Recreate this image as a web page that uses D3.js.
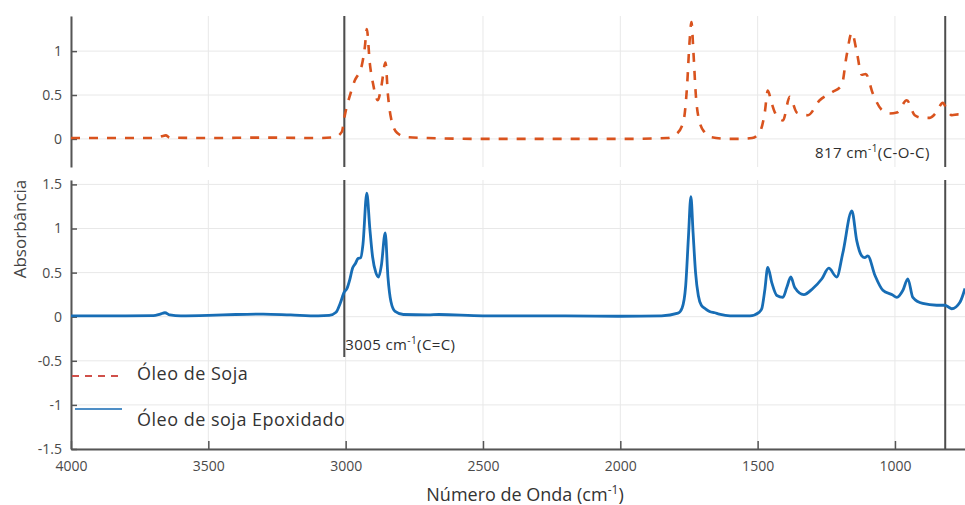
<!DOCTYPE html>
<html><head><meta charset="utf-8">
<script src="https://cdn.jsdelivr.net/npm/d3@7"></script>
<style>
body{margin:0;background:#fff;}
svg{display:block;font-family:"Open Sans",sans-serif;}
</style></head>
<body><svg id="c" width="965" height="505"></svg>
<script>
// ---- data ----
const xTicks = [4000, 3500, 3000, 2500, 2000, 1500, 1000];
const topYTicks = [0, 0.5, 1];
const bottomYTicks = [-1.5, -1, -0.5, 0, 0.5, 1, 1.5];
const markerWn = [3005, 817];
const seriesNames = ["Óleo de Soja", "Óleo de soja Epoxidado"];

const soyWn  = [4000,3800,3700,3670,3655,3640,3500,3300,3100,3040,3014,3003,2984,2966,2950,2941,2930,2923,2912,2901,2883,2870,2855,2846,2835,2813,2777,2700,2500,2000,1830,1794,1770,1757,1748,1741,1734,1725,1712,1692,1670,1600,1565,1520,1492,1474,1463,1450,1437,1408,1383,1357,1317,1274,1230,1194,1176,1157,1139,1121,1106,1081,1048,1020,993,957,928,900,873,850,826,810,793,770,745];
const soyAbs = [0.01,0.01,0.01,0.03,0.04,0.015,0.01,0.015,0.01,0.02,0.08,0.27,0.5,0.67,0.76,0.84,1.05,1.25,0.86,0.64,0.44,0.6,0.87,0.5,0.24,0.07,0.02,0.01,0.0,0.0,0.01,0.06,0.2,0.6,1.1,1.33,1.0,0.5,0.2,0.07,0.02,0.0,0.0,0.01,0.08,0.3,0.55,0.42,0.3,0.21,0.48,0.3,0.27,0.44,0.53,0.61,0.95,1.21,0.99,0.73,0.74,0.52,0.33,0.29,0.3,0.44,0.27,0.24,0.24,0.3,0.41,0.33,0.27,0.28,0.28];

const esoWn  = [4000,3800,3700,3675,3658,3640,3600,3500,3400,3300,3200,3100,3060,3035,3020,3005,2995,2985,2975,2965,2955,2945,2937,2923,2912,2902,2890,2880,2870,2856,2846,2835,2820,2790,2700,2660,2500,2200,2000,1850,1790,1775,1762,1752,1743,1735,1726,1716,1705,1690,1675,1656,1640,1600,1528,1495,1485,1474,1463,1448,1430,1408,1394,1379,1365,1332,1299,1266,1241,1212,1190,1157,1139,1121,1110,1099,1073,1044,1010,993,971,953,935,899,848,819,800,793,764,745];
const esoAbs = [0.01,0.01,0.012,0.03,0.045,0.02,0.01,0.015,0.025,0.03,0.02,0.01,0.015,0.05,0.15,0.28,0.32,0.42,0.55,0.6,0.66,0.67,0.82,1.40,1.0,0.68,0.5,0.45,0.58,0.95,0.45,0.17,0.06,0.025,0.02,0.025,0.01,0.01,0.005,0.01,0.04,0.1,0.35,0.9,1.36,0.95,0.5,0.24,0.13,0.09,0.06,0.045,0.03,0.01,0.01,0.05,0.09,0.3,0.56,0.38,0.24,0.22,0.33,0.45,0.33,0.25,0.32,0.43,0.55,0.45,0.72,1.20,0.86,0.69,0.67,0.69,0.47,0.3,0.25,0.22,0.3,0.43,0.22,0.15,0.13,0.13,0.1,0.09,0.16,0.32];

// ---- layout ----
const svg = d3.select("#c");
const L = 71, R = 965;
const pT = {y0: 16, y1: 167}, pB = {y0: 180, y1: 449};
const x = d3.scaleLinear().domain([4000, 745]).range([L, R]);
const yT = d3.scaleLinear().domain([-0.32, 1.4]).range([pT.y1, pT.y0]);
const yB = d3.scaleLinear().domain([-1.5, 1.55]).range([pB.y1, pB.y0]);

const gridC = "#e8e8e8", axisC = "#555", txtC = "#4a4a4a";

function grid(y, yTicks, p){
  const g = svg.append("g");
  g.selectAll(".v").data(xTicks).join("line")
    .attr("x1", d => x(d)).attr("x2", d => x(d)).attr("y1", p.y0).attr("y2", p.y1)
    .attr("stroke", gridC).attr("stroke-width", 1);
  g.selectAll(".h").data(yTicks).join("line")
    .attr("x1", L).attr("x2", R).attr("y1", d => y(d)).attr("y2", d => y(d))
    .attr("stroke", gridC).attr("stroke-width", 1);
}
grid(yT, topYTicks, pT);
grid(yB, bottomYTicks, pB);

function styleAxis(g){
  g.select(".domain").attr("stroke", axisC).attr("stroke-width", 2);
  g.selectAll(".tick line").attr("stroke", axisC).attr("stroke-width", 1.5);
  g.selectAll(".tick text").attr("fill", txtC).attr("font-size", 14).attr("font-family", "Open Sans, sans-serif");
}
const fmt = d => String(d);
svg.append("g").attr("transform", `translate(${L},0)`)
  .call(d3.axisLeft(yT).tickValues(topYTicks).tickFormat(fmt).tickSizeInner(-6).tickSizeOuter(0).tickPadding(9))
  .call(styleAxis);
svg.append("g").attr("transform", `translate(${L},0)`)
  .call(d3.axisLeft(yB).tickValues(bottomYTicks).tickFormat(fmt).tickSizeInner(-6).tickSizeOuter(0).tickPadding(9))
  .call(styleAxis);
svg.append("g").attr("transform", `translate(0,${pB.y1})`)
  .call(d3.axisBottom(x).tickValues(xTicks).tickFormat(fmt).tickSizeInner(-8).tickSizeOuter(0).tickPadding(12))
  .call(styleAxis);

// marker lines
svg.selectAll(null).data(markerWn).join("line")
  .attr("x1", d => x(d)).attr("x2", d => x(d)).attr("y1", pT.y0).attr("y2", pT.y1)
  .attr("stroke", "#4d4d4d").attr("stroke-width", 2);
svg.selectAll(null).data(markerWn).join("line")
  .attr("x1", d => x(d)).attr("x2", d => x(d)).attr("y1", pB.y0).attr("y2", d => d === 3005 ? 357 : pB.y1)
  .attr("stroke", "#4d4d4d").attr("stroke-width", 2);

// series
const lineT = d3.line().x(d => x(d[0])).y(d => yT(d[1])).curve(d3.curveMonotoneX);
const lineB = d3.line().x(d => x(d[0])).y(d => yB(d[1])).curve(d3.curveMonotoneX);
svg.append("path").datum(d3.zip(soyWn, soyAbs)).attr("d", lineT)
  .attr("fill", "none").attr("stroke", "#d9531e").attr("stroke-width", 2.6)
  .attr("stroke-dasharray", "9,9");
svg.append("path").datum(d3.zip(esoWn, esoAbs)).attr("d", lineB)
  .attr("fill", "none").attr("stroke", "#176db5").attr("stroke-width", 2.8);

// annotations
function annot(xp, yp, num, rest){
  const t = svg.append("text").attr("x", xp).attr("y", yp).attr("fill", "#2e2e2e")
    .attr("font-size", 15).attr("letter-spacing", 0.4).attr("font-family", "Open Sans, sans-serif");
  t.append("tspan").text(num + " cm");
  t.append("tspan").attr("dy", -6).attr("font-size", 10).text("-1");
  t.append("tspan").attr("dy", 6).text(rest);
}
annot(x(3005) + 1, 350, "3005", "(C=C)");
annot(815, 158, "817", "(C-O-C)");

// legend
const leg = svg.append("g");
leg.append("line").attr("x1", 72).attr("x2", 120).attr("y1", 376).attr("y2", 376)
  .attr("stroke", "#d0504a").attr("stroke-width", 2).attr("stroke-dasharray", "7,6");
leg.append("line").attr("x1", 75).attr("x2", 122).attr("y1", 409).attr("y2", 409)
  .attr("stroke", "#4f8fc6").attr("stroke-width", 2);
leg.append("text").attr("x", 137).attr("y", 380).text(seriesNames[0])
  .attr("font-size", 18).attr("fill", "#333").attr("letter-spacing", 0.5);
leg.append("text").attr("x", 137).attr("y", 426).text(seriesNames[1])
  .attr("font-size", 18).attr("fill", "#333").attr("letter-spacing", 0.5);

// axis titles
const xt = svg.append("text").attr("x", 525).attr("y", 501).attr("text-anchor", "middle")
  .attr("font-size", 18).attr("fill", "#333");
xt.append("tspan").text("Número de Onda (cm");
xt.append("tspan").attr("dy", -7).attr("font-size", 12).text("-1");
xt.append("tspan").attr("dy", 7).text(")");
svg.append("text").attr("transform", "translate(26,229) rotate(-90)").attr("text-anchor", "middle")
  .attr("font-size", 17).attr("fill", "#444").text("Absorbância");
</script></body></html>
